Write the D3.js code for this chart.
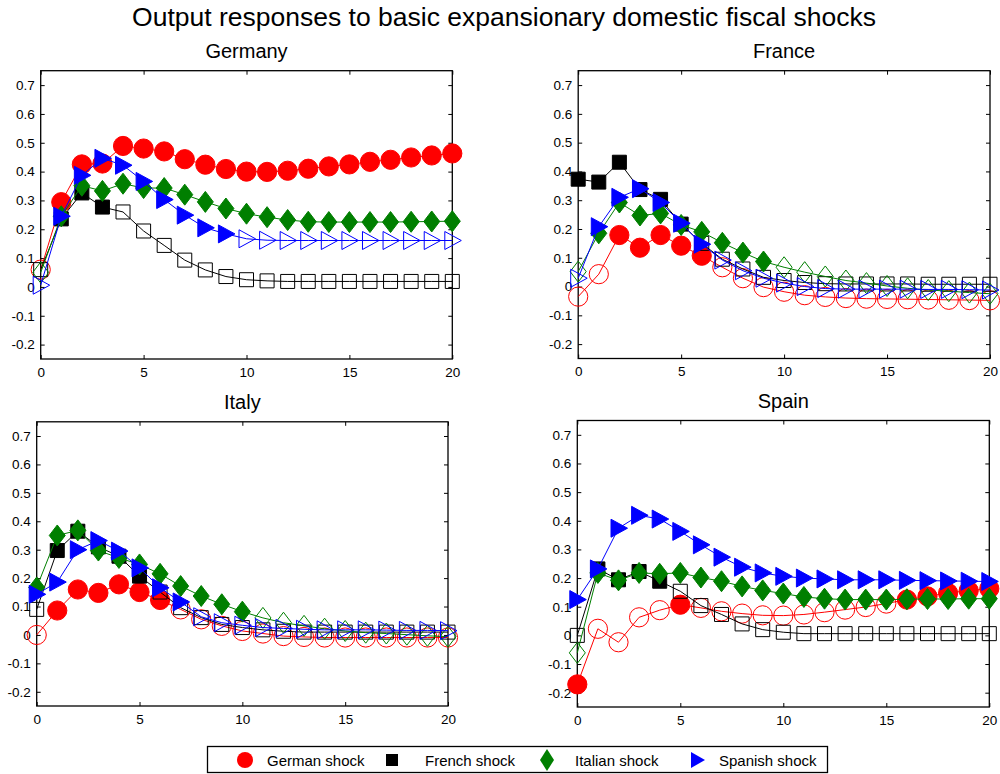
<!DOCTYPE html>
<html>
<head>
<meta charset="utf-8">
<script src="https://cdn.jsdelivr.net/npm/d3@7/dist/d3.min.js"></script>
<style>
  html, body { margin: 0; padding: 0; background: #fff; }
  svg { display: block; font-family: "Liberation Sans", Arial, Helvetica, sans-serif; }
</style>
</head>
<body>
<svg id="chart" width="1000" height="774"></svg>
<script>
// ---------------- DATA ----------------
const periods = d3.range(0, 21);
const xTicks = [0, 5, 10, 15, 20];
const yTicks = [-0.2, -0.1, 0, 0.1, 0.2, 0.3, 0.4, 0.5, 0.6, 0.7];
const countries = ["Germany", "France", "Italy", "Spain"];
const shocks = ["German shock", "French shock", "Italian shock", "Spanish shock"];
const shockColors = ["#ff0000", "#000000", "#007f00", "#0000ff"];

// Germany panel (responses of German output)
const germany_german  = [0.06,0.294,0.425,0.428,0.489,0.48,0.47,0.443,0.424,0.409,0.40,0.399,0.403,0.41,0.418,0.425,0.434,0.441,0.449,0.456,0.463];
const germany_french  = [0.06,0.236,0.326,0.277,0.26,0.194,0.144,0.093,0.059,0.036,0.025,0.021,0.019,0.019,0.019,0.019,0.019,0.019,0.019,0.019,0.019];
const germany_italian = [0.05,0.245,0.351,0.333,0.358,0.343,0.343,0.32,0.295,0.272,0.254,0.242,0.232,0.226,0.225,0.225,0.225,0.225,0.226,0.227,0.228];
const germany_spanish = [0.006,0.245,0.387,0.446,0.422,0.366,0.303,0.249,0.205,0.184,0.167,0.162,0.161,0.161,0.161,0.161,0.161,0.161,0.161,0.161,0.161];
const germany_germanSig  = [0,1,1,1,1,1,1,1,1,1,1,1,1,1,1,1,1,1,1,1,1];
const germany_frenchSig  = [0,1,1,1,0,0,0,0,0,0,0,0,0,0,0,0,0,0,0,0,0];
const germany_italianSig = [0,1,1,1,1,1,1,1,1,1,1,1,1,1,1,1,1,1,1,1,1];
const germany_spanishSig = [0,1,1,1,1,1,1,1,1,1,0,0,0,0,0,0,0,0,0,0,0];

// France panel
const france_german  = [-0.035,0.043,0.179,0.135,0.179,0.142,0.107,0.067,0.029,-0.002,-0.018,-0.03,-0.036,-0.04,-0.042,-0.043,-0.044,-0.045,-0.046,-0.047,-0.048];
const france_french  = [0.373,0.363,0.432,0.337,0.303,0.217,0.15,0.095,0.061,0.032,0.021,0.014,0.01,0.009,0.009,0.009,0.009,0.008,0.008,0.008,0.008];
const france_italian = [0.052,0.185,0.292,0.247,0.254,0.214,0.19,0.152,0.118,0.087,0.067,0.05,0.035,0.021,0.012,0.002,-0.006,-0.012,-0.016,-0.021,-0.025];
const france_spanish = [0.029,0.208,0.31,0.34,0.292,0.22,0.147,0.092,0.055,0.029,0.012,0.0,-0.007,-0.009,-0.009,-0.009,-0.009,-0.01,-0.01,-0.011,-0.012];
const france_germanSig  = [0,0,1,1,1,1,1,0,0,0,0,0,0,0,0,0,0,0,0,0,0];
const france_frenchSig  = [1,1,1,1,1,1,0,0,0,0,0,0,0,0,0,0,0,0,0,0,0];
const france_italianSig = [0,1,1,1,1,1,1,1,1,1,0,0,0,0,0,0,0,0,0,0,0];
const france_spanishSig = [0,1,1,1,1,1,1,0,0,0,0,0,0,0,0,0,0,0,0,0,0];

// Italy panel
const italy_german  = [0.0,0.086,0.16,0.148,0.178,0.151,0.123,0.09,0.055,0.032,0.014,0.005,-0.004,-0.007,-0.009,-0.009,-0.009,-0.009,-0.009,-0.009,-0.009];
const italy_french  = [0.09,0.297,0.365,0.31,0.277,0.207,0.151,0.096,0.061,0.037,0.026,0.018,0.013,0.01,0.01,0.01,0.01,0.01,0.01,0.01,0.01];
const italy_italian = [0.167,0.35,0.368,0.297,0.271,0.248,0.215,0.172,0.137,0.108,0.082,0.06,0.043,0.032,0.022,0.014,0.008,0.005,0.001,-0.003,-0.006];
const italy_spanish = [0.143,0.186,0.30,0.332,0.295,0.236,0.166,0.116,0.064,0.043,0.034,0.026,0.023,0.02,0.018,0.018,0.018,0.017,0.016,0.016,0.015];
const italy_germanSig  = [0,1,1,1,1,1,1,0,0,0,0,0,0,0,0,0,0,0,0,0,0];
const italy_frenchSig  = [0,1,1,1,1,1,0,0,0,0,0,0,0,0,0,0,0,0,0,0,0];
const italy_italianSig = [1,1,1,1,1,1,1,1,1,1,1,0,0,0,0,0,0,0,0,0,0];
const italy_spanishSig = [1,1,1,1,1,1,1,1,0,0,0,0,0,0,0,0,0,0,0,0,0];

// Spain panel
const spain_german  = [-0.171,0.023,-0.024,0.063,0.088,0.107,0.096,0.084,0.076,0.07,0.069,0.073,0.081,0.09,0.099,0.111,0.125,0.136,0.148,0.156,0.163];
const spain_french  = [0.0,0.232,0.194,0.223,0.189,0.154,0.104,0.073,0.04,0.02,0.011,0.006,0.006,0.006,0.006,0.006,0.006,0.006,0.006,0.006,0.006];
const spain_italian = [-0.061,0.218,0.192,0.218,0.215,0.218,0.202,0.189,0.171,0.157,0.146,0.134,0.128,0.125,0.125,0.125,0.126,0.127,0.127,0.128,0.128];
const spain_spanish = [0.125,0.232,0.374,0.419,0.406,0.363,0.316,0.273,0.238,0.218,0.206,0.20,0.197,0.194,0.194,0.194,0.192,0.191,0.19,0.189,0.188];
const spain_germanSig  = [1,0,0,0,0,1,0,0,0,0,0,0,0,0,0,0,1,1,1,1,1];
const spain_frenchSig  = [0,1,1,1,1,0,0,0,0,0,0,0,0,0,0,0,0,0,0,0,0];
const spain_italianSig = [0,1,1,1,1,1,1,1,1,1,1,1,1,1,1,1,1,1,1,1,1];
const spain_spanishSig = [1,1,1,1,1,1,1,1,1,1,1,1,1,1,1,1,1,1,1,1,1];

// ---------------- BUILD ----------------
const panelSeries = {
  Germany: [[germany_german, germany_germanSig],[germany_french, germany_frenchSig],[germany_italian, germany_italianSig],[germany_spanish, germany_spanishSig]],
  France:  [[france_german, france_germanSig],[france_french, france_frenchSig],[france_italian, france_italianSig],[france_spanish, france_spanishSig]],
  Italy:   [[italy_german, italy_germanSig],[italy_french, italy_frenchSig],[italy_italian, italy_italianSig],[italy_spanish, italy_spanishSig]],
  Spain:   [[spain_german, spain_germanSig],[spain_french, spain_frenchSig],[spain_italian, spain_italianSig],[spain_spanish, spain_spanishSig]]
};

// layout (pixel boxes of each axes)
const boxes = {
  Germany: {l: 40.7, r: 452.3, t: 70.7, b: 359},
  France:  {l: 578.2, r: 990,  t: 70.7, b: 358.5},
  Italy:   {l: 36.7, r: 448,   t: 421.8, b: 706},
  Spain:   {l: 577.3, r: 989.3, t: 420.5, b: 707}
};

const svg = d3.select("#chart");

svg.append("text")
  .attr("x", 504).attr("y", 26)
  .attr("text-anchor", "middle")
  .attr("font-size", 26.5)
  .attr("fill", "#000")
  .text("Output responses to basic expansionary domestic fiscal shocks");

function markerPath(type) {
  switch (type) {
    case 0: return null; // circle
    case 1: return "M-7,-7H7V7H-7Z";
    case 2: return "M0,-10.5L8,0L0,10.5L-8,0Z";
    case 3: return "M-7.5,-9L9,0L-7.5,9Z";
  }
}

function drawMarker(g, type, x, y, color, filled) {
  let el;
  if (type === 0) {
    el = g.append("circle").attr("cx", x).attr("cy", y).attr("r", 9.6);
  } else {
    el = g.append("path").attr("d", markerPath(type)).attr("transform", `translate(${x},${y})`);
  }
  el.attr("fill", filled ? color : "none")
    .attr("stroke", color)
    .attr("stroke-width", 1);
}

const tickFmt = v => {
  const r = Math.round(v * 10) / 10;
  return r === 0 ? "0" : String(r);
};

countries.forEach(name => {
  const bx = boxes[name];
  const x = d3.scaleLinear().domain([0, 20]).range([bx.l, bx.r]);
  const y = d3.scaleLinear().domain([-0.25, 0.75]).range([bx.b, bx.t]);
  const g = svg.append("g");

  // axes box and ticks (inward, all sides)
  const axB = d3.axisBottom(x).tickValues(xTicks).tickSize(-4).tickPadding(8).tickFormat(d3.format("d"));
  const axT = d3.axisTop(x).tickValues(xTicks).tickSize(-4).tickFormat("");
  const axL = d3.axisLeft(y).tickValues(yTicks).tickSize(-4).tickPadding(6).tickFormat(tickFmt);
  const axR = d3.axisRight(y).tickValues(yTicks).tickSize(-4).tickFormat("");

  const gb = g.append("g").attr("transform", `translate(0,${bx.b})`).call(axB);
  const gt = g.append("g").attr("transform", `translate(0,${bx.t})`).call(axT);
  const gl = g.append("g").attr("transform", `translate(${bx.l},0)`).call(axL);
  const gr = g.append("g").attr("transform", `translate(${bx.r},0)`).call(axR);
  [gb, gt, gl, gr].forEach(a => {
    a.select(".domain").remove();
    a.selectAll("line").attr("stroke", "#000").attr("stroke-width", 1);
    a.selectAll("text").attr("font-size", 13.5).attr("fill", "#000")
      .attr("font-family", '"Liberation Sans", Arial, Helvetica, sans-serif');
  });
  g.append("rect")
    .attr("x", bx.l).attr("y", bx.t)
    .attr("width", bx.r - bx.l).attr("height", bx.b - bx.t)
    .attr("fill", "none").attr("stroke", "#000").attr("stroke-width", 1.3);

  // title
  g.append("text")
    .attr("x", (bx.l + bx.r) / 2).attr("y", bx.t - 12.5)
    .attr("text-anchor", "middle")
    .attr("font-size", 20)
    .attr("fill", "#000")
    .text(name);

  // series
  const line = d3.line().x((d, i) => x(periods[i])).y(d => y(d));
  panelSeries[name].forEach((s, k) => {
    const vals = s[0], sig = s[1];
    g.append("path")
      .attr("d", line(vals))
      .attr("fill", "none")
      .attr("stroke", shockColors[k])
      .attr("stroke-width", 1);
    const mg = g.append("g");
    vals.forEach((v, i) => drawMarker(mg, k, x(periods[i]), y(v), shockColors[k], sig[i] === 1));
  });
});

// legend
const lg = svg.append("g");
lg.append("rect").attr("x", 207.5).attr("y", 746.5).attr("width", 620).attr("height", 26)
  .attr("fill", "#fff").attr("stroke", "#000").attr("stroke-width", 1.3);
const legendMarkX = [245, 392, 547, 697];
const legendTextX = [267, 425, 575, 719];
shocks.forEach((s, k) => {
  if (k === 0) {
    lg.append("circle").attr("cx", legendMarkX[k]).attr("cy", 760).attr("r", 8).attr("fill", shockColors[k]);
  } else if (k === 1) {
    lg.append("path").attr("d", "M-6,-6H6V6H-6Z").attr("transform", `translate(${legendMarkX[k]},760)`).attr("fill", shockColors[k]);
  } else if (k === 2) {
    lg.append("path").attr("d", "M0,-11L7,0L0,11L-7,0Z").attr("transform", `translate(${legendMarkX[k]},760)`).attr("fill", shockColors[k]);
  } else {
    lg.append("path").attr("d", "M-6,-8L8,0L-6,8Z").attr("transform", `translate(${legendMarkX[k]},760)`).attr("fill", shockColors[k]);
  }
  lg.append("text").attr("x", legendTextX[k]).attr("y", 765.5)
    .attr("font-size", 15).attr("fill", "#000").text(s);
});
</script>
</body>
</html>
